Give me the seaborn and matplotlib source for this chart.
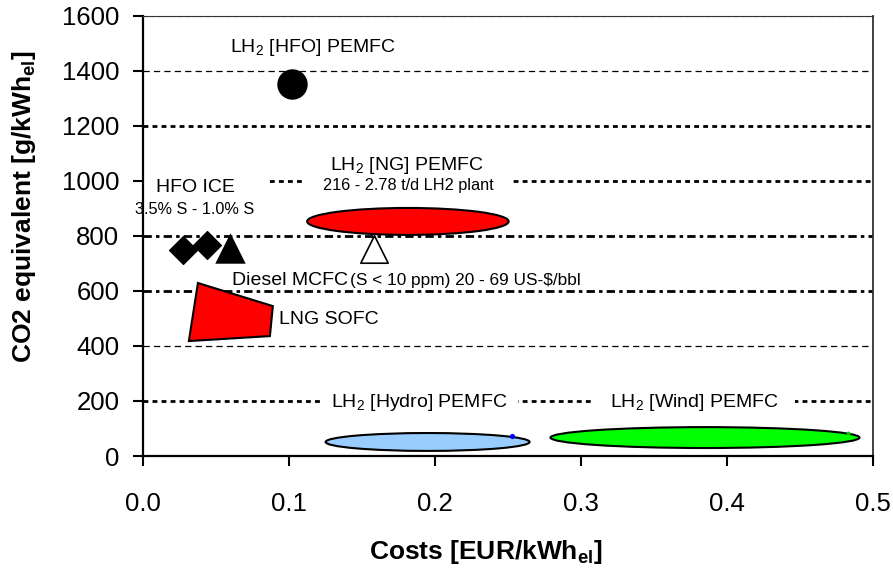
import numpy as np
import pandas as pd
import matplotlib
matplotlib.use("Agg")
import matplotlib.pyplot as plt
import seaborn as sns
from matplotlib.patches import Ellipse, Polygon
from matplotlib.path import Path

# ---------------- data ----------------
x_ticks = [0.0, 0.1, 0.2, 0.3, 0.4, 0.5]
x_tick_labels = ["0.0", "0.1", "0.2", "0.3", "0.4", "0.5"]
y_ticks = [0, 200, 400, 600, 800, 1000, 1200, 1400, 1600]
y_tick_labels = ["0", "200", "400", "600", "800", "1000", "1200", "1400", "1600"]

point_series = ["LH2 [HFO] PEMFC", "HFO ICE", "HFO ICE", "HFO ICE",
                "Diesel MCFC", "LH2 [Hydro] PEMFC", "LH2 [Wind] PEMFC"]
point_kind = ["circle", "diamond", "diamond", "triangle",
              "open_triangle", "dot_blue", "dot_green"]
point_cost = [0.102, 0.0274, 0.0438, 0.060, 0.158, 0.253, 0.483]
point_co2 = [1351, 749, 767, 758, 753, 73, 84]

ellipse_names = ["LH2 [NG] PEMFC", "LH2 [Hydro] PEMFC", "LH2 [Wind] PEMFC"]
ellipse_cost_center = [0.1815, 0.195, 0.385]
ellipse_cost_width = [0.138, 0.1397, 0.2116]
ellipse_co2_center = [853, 51, 67]
ellipse_co2_height = [98, 65, 76]
ellipse_colors = ["#FF0000", "#99CCFF", "#00FF00"]

lng_sofc_cost = [0.0377, 0.089, 0.087, 0.0315]
lng_sofc_co2 = [629, 545, 436, 418]

# ---------------- style ----------------
sns.set_theme(style="ticks")
plt.rcParams["font.family"] = ["Liberation Sans", "DejaVu Sans"]
plt.rcParams["text.color"] = "black"
plt.rcParams["axes.labelcolor"] = "black"
plt.rcParams["xtick.color"] = "black"
plt.rcParams["ytick.color"] = "black"
plt.rcParams["mathtext.fontset"] = "custom"
plt.rcParams["mathtext.rm"] = "Liberation Sans"
plt.rcParams["mathtext.it"] = "Liberation Sans:italic"
plt.rcParams["mathtext.bf"] = "Liberation Sans:bold"
plt.rcParams["mathtext.default"] = "regular"
plt.rcParams["lines.scale_dashes"] = False

fig = plt.figure(figsize=(8.93, 5.71), dpi=100)
ax = fig.add_axes([0.160, 0.2014, 0.8175, 0.7706])
ax.set_xlim(0, 0.5)
ax.set_ylim(0, 1600)

# horizontal reference lines
grid_styles = {
    1600: dict(lw=0.8, ls=(0, (3, 2))),
    1400: dict(lw=0.9, ls=(0, (4.5, 3))),
    1200: dict(lw=2.0, ls=(0, (3.5, 3))),
    1000: dict(lw=2.0, ls=(0, (3.5, 3))),
    800: dict(lw=2.0, ls=(0, (6, 3, 2.5, 3))),
    600: dict(lw=2.0, ls=(0, (6, 3, 2.5, 3))),
    400: dict(lw=0.9, ls=(0, (4.5, 3))),
    200: dict(lw=2.0, ls=(0, (3.5, 3))),
}
for yv, st in grid_styles.items():
    ax.axhline(yv, color="black", zorder=1, **st)

# ellipses
for cx, w, cy, h, c in zip(ellipse_cost_center, ellipse_cost_width,
                           ellipse_co2_center, ellipse_co2_height, ellipse_colors):
    ax.add_patch(Ellipse((cx, cy), w, h, facecolor=c, edgecolor="black",
                         linewidth=1.5, zorder=3))

# LNG SOFC polygon
ax.add_patch(Polygon(np.column_stack([lng_sofc_cost, lng_sofc_co2]), closed=True,
                     facecolor="#FF0000", edgecolor="black", linewidth=1.5, zorder=3))

# markers
df = pd.DataFrame({"series": point_series, "kind": point_kind,
                   "cost": point_cost, "co2": point_co2})
marker_styles = {
    "circle": dict(marker="o", s=480, color="black", edgecolor="black", linewidth=0),
    "diamond": dict(marker="D", s=205, color="black", edgecolor="black", linewidth=0.8),
    "triangle": dict(marker="^", s=480, color="black", edgecolor="black", linewidth=0),
    "open_triangle": dict(marker="^", s=390, color="white", edgecolor="black", linewidth=1.2),
    "dot_blue": dict(marker="o", s=14, color="#0000FF", edgecolor="#0000FF", linewidth=0),
    "dot_green": dict(marker="o", s=8, color="#00CC00", edgecolor="#00CC00", linewidth=0),
}
for kind, sub in df.groupby("kind", sort=False):
    sns.scatterplot(data=sub, x="cost", y="co2", ax=ax, legend=False, zorder=4,
                    **marker_styles[kind])


class PadBox:
    def __init__(self, left, right, bottom, top):
        self.pads = (left, right, bottom, top)

    def __call__(self, x0, y0, width, height, mutation_size):
        l, r, b, t = [p * mutation_size for p in self.pads]
        verts = [(x0 - l, y0 - b), (x0 + width + r, y0 - b),
                 (x0 + width + r, y0 + height + t), (x0 - l, y0 + height + t),
                 (x0 - l, y0 - b)]
        return Path(verts, closed=True)


def wbox(l, r, b=0.1, t=0.1):
    return dict(boxstyle=PadBox(l, r, b, t), facecolor="white", edgecolor="none")


# annotations
ax.text(0.1165, 1484, "LH$_2$ [HFO] PEMFC", fontsize=14, ha="center", va="center", zorder=2.2)
ax.text(0.036, 975, "HFO ICE", fontsize=14, ha="center", va="center", zorder=2.1,
        bbox=wbox(0.6, 1.75))
ax.text(0.0356, 898, "3.5% S - 1.0% S", fontsize=11.7, ha="center", va="center", zorder=2.2)
ax.text(0.181, 1058, "LH$_2$ [NG] PEMFC", fontsize=14, ha="center", va="center", zorder=2.2)
ax.text(0.1815, 985, "216 - 2.78 t/d LH2 plant", fontsize=11.7, ha="center", va="center",
        zorder=2.1, bbox=wbox(1.22, 1.22))
ax.text(0.061, 622, "Diesel MCFC", fontsize=14, ha="left", va="baseline", zorder=2.2)
ax.text(0.1418, 622, r"(S < 10 ppm) 20 - 69 US-\$/bbl", fontsize=12.4, ha="left",
        va="baseline", zorder=2.2)
ax.text(0.093, 495, "LNG SOFC", fontsize=14, ha="left", va="center", zorder=2.2)
ax.text(0.189, 196, "LH$_2$ [Hydro] PEMFC", fontsize=14, ha="center", va="center",
        zorder=2.1, bbox=wbox(0.5, 0.58))
ax.text(0.378, 196, "LH$_2$ [Wind] PEMFC", fontsize=14, ha="center", va="center",
        zorder=2.1, bbox=wbox(0.82, 0.82))

# axes decoration
ax.set_xticks(x_ticks)
ax.set_xticklabels(x_tick_labels)
ax.set_yticks(y_ticks)
ax.set_yticklabels(y_tick_labels)
ax.tick_params(axis="x", direction="out", length=7, width=1.5, pad=19, labelsize=18.5,
               colors="black")
ax.tick_params(axis="y", direction="out", length=7, width=1.5, pad=10, labelsize=18.5,
               colors="black")
ax.set_xlabel("")
ax.set_ylabel("")
for side in ["left", "bottom"]:
    ax.spines[side].set_linewidth(1.6)
    ax.spines[side].set_color("black")
ax.spines["right"].set_visible(True)
ax.spines["right"].set_linewidth(1.3)
ax.spines["right"].set_color("#333333")
ax.spines["top"].set_visible(True)
ax.spines["top"].set_linewidth(0.8)
ax.spines["top"].set_color("#333333")

fig.text(0.544, 0.0333, r"Costs [EUR/kW$\mathbf{h_{el}}$]", fontsize=19, fontweight="bold",
         ha="center", va="center", color="black")
fig.text(0.0269, 0.6375, r"CO2 equivalent [g/kW$\mathbf{h_{el}}$]", fontsize=19,
         fontweight="bold", ha="center", va="center", rotation=90, color="black")

fig.savefig("out.png", dpi=100)
